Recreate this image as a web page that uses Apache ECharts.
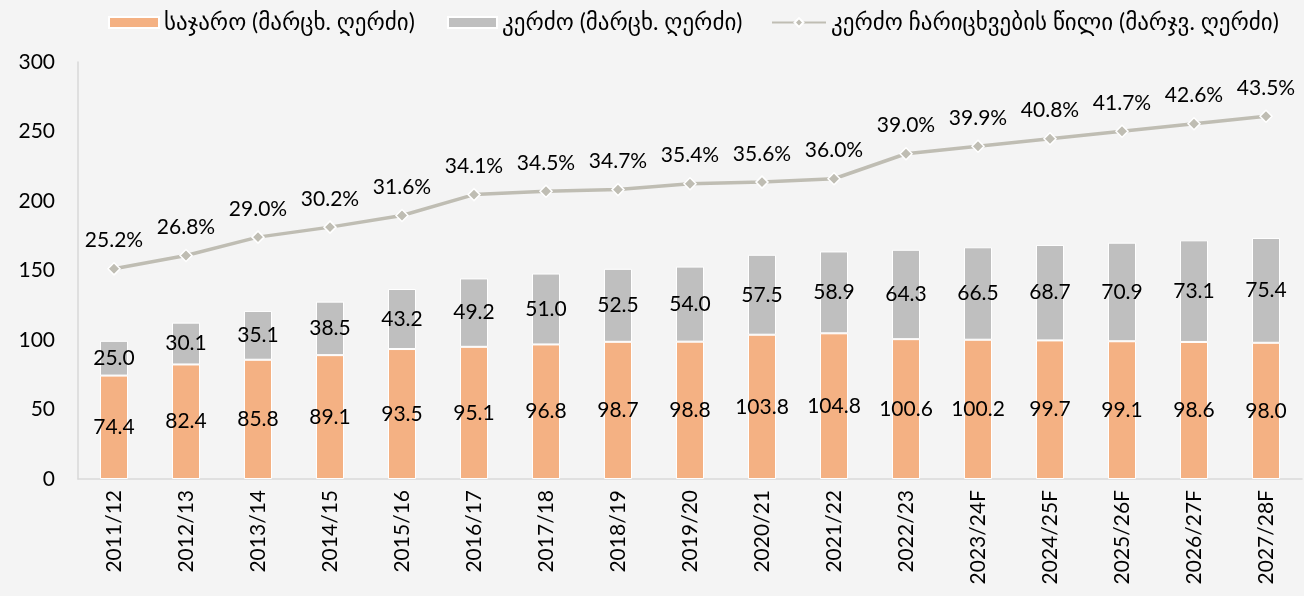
<!DOCTYPE html>
<html><head><meta charset="utf-8">
<script src="https://cdn.jsdelivr.net/npm/echarts@6/dist/echarts.min.js"></script>
<style>html,body{margin:0;padding:0;background:#f4f4f4}#c{width:1304px;height:596px}</style>
</head><body><div id="c"></div>
<script>
const categories = ['2011/12','2012/13','2013/14','2014/15','2015/16','2016/17','2017/18','2018/19','2019/20','2020/21','2021/22','2022/23','2023/24F','2024/25F','2025/26F','2026/27F','2027/28F'];
const publicVals = [74.4,82.4,85.8,89.1,93.5,95.1,96.8,98.7,98.8,103.8,104.8,100.6,100.2,99.7,99.1,98.6,98.0];
const privateVals = [25.0,30.1,35.1,38.5,43.2,49.2,51.0,52.5,54.0,57.5,58.9,64.3,66.5,68.7,70.9,73.1,75.4];
const shareVals = [25.2,26.8,29.0,30.2,31.6,34.1,34.5,34.7,35.4,35.6,36.0,39.0,39.9,40.8,41.7,42.6,43.5];
const names = ['საჯარო (მარცხ. ღერძი)','კერძო (მარცხ. ღერძი)','კერძო ჩარიცხვების წილი (მარჯვ. ღერძი)'];
const FONT = 'Lato, "DejaVu Sans", sans-serif';
const legendText = {fontSize:23,color:'#000',fontFamily:FONT};
const chart = echarts.init(document.getElementById('c'));
chart.setOption({
  backgroundColor:'#f4f4f4',
  textStyle:{fontFamily:FONT,color:'#000'},
  legend:[
    {top:6,left:103,itemWidth:50,itemHeight:11,textStyle:legendText,data:[{name:names[0],icon:'rect'}]},
    {top:6,left:442,itemWidth:49,itemHeight:11,textStyle:legendText,data:[{name:names[1],icon:'rect'}]},
    {top:6,left:766,itemWidth:54,itemHeight:11,textStyle:legendText,data:[{name:names[2]}]}
  ],
  grid:{left:78,right:2,top:62,bottom:117},
  xAxis:{type:'category',data:categories,
    axisLine:{lineStyle:{color:'#d9d9d9',width:1.5}},axisTick:{show:false},
    axisLabel:{rotate:90,fontSize:21,color:'#000',margin:11,fontFamily:FONT}},
  yAxis:[{type:'value',min:0,max:300,interval:50,
    axisLine:{show:true,lineStyle:{color:'#d9d9d9',width:1.5}},splitLine:{show:false},axisTick:{show:false},
    axisLabel:{fontSize:21,color:'#000',margin:23,fontFamily:FONT}},
    {type:'value',min:0,max:50,show:false,splitLine:{show:false}}],
  series:[
    {name:names[0],type:'bar',stack:'a',data:publicVals,barWidth:28,
      itemStyle:{color:'#f4b183',borderColor:'#ffffff',borderWidth:1},
      label:{show:true,position:'inside',fontSize:21,color:'#000',formatter:p=>p.value.toFixed(1)}},
    {name:names[1],type:'bar',stack:'a',data:privateVals,barWidth:28,
      itemStyle:{color:'#bfbfbf',borderColor:'#ffffff',borderWidth:1},
      label:{show:true,position:'inside',fontSize:21,color:'#000',formatter:p=>p.value.toFixed(1)}},
    {name:names[2],type:'line',yAxisIndex:1,data:shareVals,
      lineStyle:{color:'#bfbdb3',width:3.5},itemStyle:{color:'#bfbdb3',borderColor:'#ffffff',borderWidth:1.5},
      symbol:'diamond',symbolSize:12,
      label:{show:true,position:'top',distance:11,fontSize:21,color:'#000',formatter:p=>p.value.toFixed(1)+'%'}}
  ]
});
</script></body></html>
